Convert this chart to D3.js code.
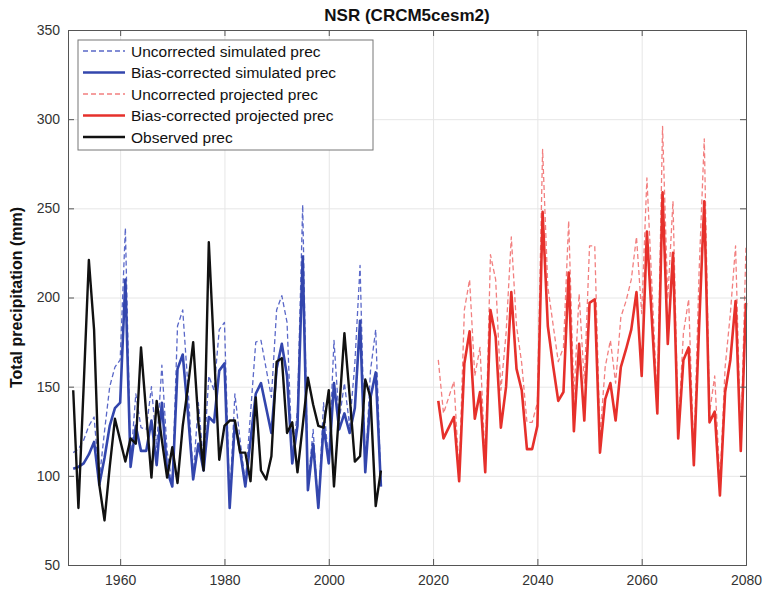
<!DOCTYPE html>
<html>
<head>
<meta charset="utf-8">
<script src="https://cdn.jsdelivr.net/npm/d3@7"></script>
<style>
  body { margin: 0; background: #fff; }
  svg { font-family: "Liberation Sans", Helvetica, Arial, sans-serif; }
</style>
</head>
<body>
<svg id="chart"></svg>
<script>
// Years for the historical and projected periods
const histYears = d3.range(1951, 2011);
const projYears = d3.range(2021, 2081);

// Observed precipitation (mm), 1951-2010
const observed = [148, 82, 150, 221, 182, 95, 75, 105, 132, 120,
  108, 121, 118, 172, 135, 99, 142, 120, 99, 116,
  96, 128, 150, 175, 130, 103, 231, 170, 109, 128,
  131, 131, 113, 113, 97, 144, 103, 98, 111, 164,
  166, 124, 130, 102, 128, 155, 140, 128, 127, 148,
  94, 137, 180, 145, 108, 111, 154, 144, 83, 103];

// Uncorrected simulated, 1951-2010
const simRaw = [113, 115, 120, 128, 133, 98, 125, 150, 161, 165,
  239, 107, 146, 127, 126, 150, 116, 162, 114, 95,
  184, 193, 150, 100, 141, 107, 156, 148, 182, 186,
  85, 146, 120, 96, 135, 175, 176, 160, 144, 193,
  201, 186, 109, 137, 252, 94, 126, 82, 141, 107,
  176, 131, 152, 128, 163, 218, 103, 159, 182, 94];

// Bias-corrected simulated, 1951-2010
const simBc = [104, 105, 107, 112, 119, 95, 110, 128, 138, 141,
  210, 105, 128, 114, 114, 131, 106, 141, 103, 94,
  160, 168, 135, 98, 118, 103, 133, 130, 159, 163,
  82, 130, 114, 94, 120, 146, 152, 138, 124, 160,
  174, 156, 107, 128, 223, 92, 118, 82, 128, 107,
  152, 126, 135, 124, 138, 187, 102, 144, 158, 94];

// Uncorrected projected, 2021-2080
const projRaw = [165, 135, 144, 153, 101, 193, 210, 156, 172, 107,
  224, 210, 148, 180, 234, 184, 163, 130, 130, 141,
  283, 206, 185, 164, 172, 243, 144, 202, 152, 229,
  229, 122, 161, 176, 152, 189, 198, 210, 234, 191,
  267, 204, 141, 296, 199, 254, 126, 180, 199, 111,
  214, 289, 135, 156, 96, 161, 191, 229, 118, 229];

// Bias-corrected projected, 2021-2080
const projBc = [142, 121, 127, 133, 97, 163, 181, 132, 147, 102,
  193, 178, 127, 150, 203, 160, 148, 115, 115, 128,
  248, 184, 162, 142, 147, 214, 125, 174, 131, 197,
  199, 113, 143, 152, 131, 161, 171, 182, 203, 156,
  237, 185, 135, 259, 174, 225, 121, 165, 172, 106,
  183, 254, 130, 136, 89, 147, 165, 198, 114, 197];

const xTicks = [1960, 1980, 2000, 2020, 2040, 2060, 2080];
const yTicks = [50, 100, 150, 200, 250, 300, 350];

const series = [
  {name: 'Uncorrected simulated prec', years: histYears, values: simRaw, color: '#5a68c8', width: 1.3, dash: '5,3'},
  {name: 'Bias-corrected simulated prec', years: histYears, values: simBc, color: '#3346ad', width: 2.6, dash: null},
  {name: 'Uncorrected projected prec', years: projYears, values: projRaw, color: '#f27f7f', width: 1.3, dash: '5,3'},
  {name: 'Bias-corrected projected prec', years: projYears, values: projBc, color: '#e6302b', width: 2.6, dash: null},
  {name: 'Observed prec', years: histYears, values: observed, color: '#111111', width: 2.4, dash: null}
];

const W = 766, H = 592;
const margin = {top: 30, right: 20, bottom: 27, left: 68};
const width = W - margin.left - margin.right;
const height = H - margin.top - margin.bottom;

const svg = d3.select('#chart').attr('width', W).attr('height', H);
const g = svg.append('g').attr('transform', `translate(${margin.left},${margin.top})`);

const x = d3.scaleLinear().domain([1950, 2080]).range([0, width]);
const y = d3.scaleLinear().domain([50, 350]).range([height, 0]);

// Grid lines
g.append('g')
  .call(d3.axisBottom(x).tickValues(xTicks).tickSize(height).tickFormat(''))
  .call(s => s.select('.domain').remove())
  .selectAll('line').attr('stroke', '#e6e6e6');
g.append('g')
  .call(d3.axisLeft(y).tickValues(yTicks).tickSize(-width).tickFormat(''))
  .call(s => s.select('.domain').remove())
  .selectAll('line').attr('stroke', '#e6e6e6');

// Lines
const line = d3.line()
  .x(d => x(d[0]))
  .y(d => y(d[1]));

series.forEach(s => {
  g.append('path')
    .datum(s.years.map((yr, i) => [yr, s.values[i]]))
    .attr('fill', 'none')
    .attr('stroke', s.color)
    .attr('stroke-width', s.width)
    .attr('stroke-dasharray', s.dash)
    .attr('stroke-linejoin', 'round')
    .attr('d', line);
});

// Axes (ticks inside, box on)
const axisColor = '#555';
const xAxis = g.append('g')
  .attr('transform', `translate(0,${height})`)
  .call(d3.axisBottom(x).tickValues(xTicks).tickSize(-6).tickPadding(10).tickFormat(d3.format('d')));
const xTop = g.append('g')
  .call(d3.axisTop(x).tickValues(xTicks).tickSize(-6).tickFormat(''));
const yAxis = g.append('g')
  .call(d3.axisLeft(y).tickValues(yTicks).tickSize(-6).tickPadding(8));
const yRight = g.append('g')
  .attr('transform', `translate(${width},0)`)
  .call(d3.axisRight(y).tickValues(yTicks).tickSize(-6).tickFormat(''));

[xAxis, xTop, yAxis, yRight].forEach(a => {
  a.select('.domain').attr('stroke', axisColor);
  a.selectAll('line').attr('stroke', axisColor);
  a.selectAll('text').attr('fill', '#333').style('font-size', '14px');
});

// Title
svg.append('text')
  .attr('x', margin.left + width / 2)
  .attr('y', 21)
  .attr('text-anchor', 'middle')
  .style('font-size', '17px')
  .style('font-weight', 'bold')
  .attr('fill', '#111')
  .text('NSR (CRCM5cesm2)');

// Y label
svg.append('text')
  .attr('transform', `translate(22,${margin.top + height / 2}) rotate(-90)`)
  .attr('text-anchor', 'middle')
  .style('font-size', '16px')
  .style('font-weight', 'bold')
  .attr('fill', '#111')
  .text('Total precipitation (mm)');

// Legend
const legend = g.append('g').attr('transform', 'translate(10,10)');
legend.append('rect')
  .attr('width', 295)
  .attr('height', 110)
  .attr('fill', '#fff')
  .attr('stroke', '#777');

series.forEach((s, i) => {
  const ly = 11 + i * 21.5;
  legend.append('line')
    .attr('x1', 5).attr('x2', 47)
    .attr('y1', ly).attr('y2', ly)
    .attr('stroke', s.color)
    .attr('stroke-width', s.dash ? 1.3 : 2.4)
    .attr('stroke-dasharray', s.dash);
  legend.append('text')
    .attr('x', 53)
    .attr('y', ly + 5.5)
    .style('font-size', '15.5px')
    .attr('fill', '#111')
    .text(s.name);
});
</script>
</body>
</html>
